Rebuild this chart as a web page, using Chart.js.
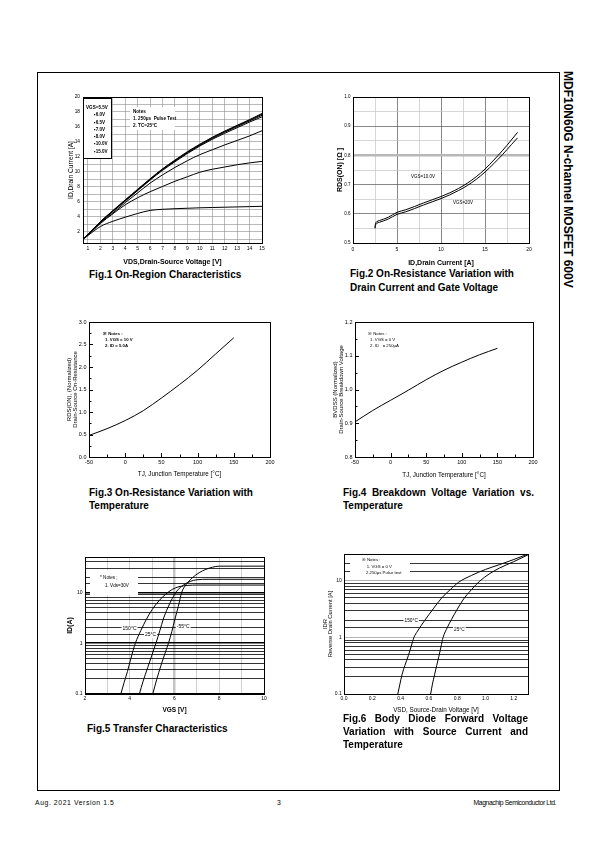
<!DOCTYPE html>
<html>
<head>
<meta charset="utf-8">
<title>MDF10N60G</title>
<script src="https://cdn.jsdelivr.net/npm/chart.js@4.4.0/dist/chart.umd.min.js"></script>
<style>
  body { margin: 0; background: #fff; font-family: 'Liberation Sans', Arial, sans-serif; color: #000; }
  #page { position: relative; width: 595px; height: 842px; overflow: hidden; }
  #frame { position: absolute; left: 37px; top: 72px; width: 523px; height: 719px; border: 1px solid #000; box-sizing: border-box; }
  #side { position: absolute; left: 561px; top: 71px; writing-mode: vertical-rl; font-weight: bold; font-size: 12px; line-height: 14px; white-space: nowrap; }
  canvas { position: absolute; }
  .cap { position: absolute; font-weight: bold; font-size: 10px; line-height: 13px; white-space: nowrap; }
  .just { display: block; text-align: justify; text-align-last: justify; }
  .foot { position: absolute; top: 798px; font-size: 6.8px; line-height: 10px; white-space: nowrap; }
</style>
</head>
<body>
<div id="page">
  <div id="frame"></div>
  <div id="side">MDF10N60G N-channel MOSFET 600V</div>

  <canvas id="fig1"></canvas>
  <canvas id="fig2"></canvas>
  <canvas id="fig3"></canvas>
  <canvas id="fig4"></canvas>
  <canvas id="fig5"></canvas>
  <canvas id="fig6"></canvas>

  <div class="cap" style="left:89px; top:268px;">Fig.1 On-Region Characteristics</div>
  <div class="cap" style="left:350px; top:267px; line-height:14px;">Fig.2 On-Resistance Variation with<br>Drain Current and Gate Voltage</div>
  <div class="cap" style="left:89px; top:486px;">Fig.3 On-Resistance Variation with<br>Temperature</div>
  <div class="cap" style="left:343px; top:486px; width:191px; white-space:normal;"><span class="just">Fig.4 Breakdown Voltage Variation vs.</span>Temperature</div>
  <div class="cap" style="left:87px; top:722px;">Fig.5 Transfer Characteristics</div>
  <div class="cap" style="left:343px; top:712px; width:185px; white-space:normal;"><span class="just">Fig.6 Body Diode Forward Voltage</span><span class="just">Variation with Source Current and</span>Temperature</div>

  <div class="foot" style="left:35px; letter-spacing:0.6px;">Aug. 2021 Version 1.5</div>
  <div class="foot" style="left:277px;">3</div>
  <div class="foot" style="right:39px; letter-spacing:-0.4px;">Magnachip Semiconductor Ltd.</div>
</div>

<script>
const FONT = "'Liberation Sans', Arial, sans-serif";
const NARROW = "'Liberation Sans Narrow', 'Liberation Sans', Arial, sans-serif";

// Fig.1 On-Region Characteristics
const fig1Vds = [0.6, 1, 2, 3, 4, 5, 6, 7, 8, 9, 10, 11, 12, 13, 14, 15];
const fig1Id55 = [1.0, 1.5, 2.7, 3.4, 3.95, 4.45, 4.85, 5.0, 5.08, 5.14, 5.2, 5.24, 5.28, 5.32, 5.36, 5.4];
const fig1Id60 = [1.0, 1.55, 3.1, 4.4, 5.6, 6.55, 7.35, 8.05, 8.75, 9.35, 9.95, 10.35, 10.65, 10.95, 11.2, 11.4];
const fig1Id65 = [1.0, 1.6, 3.2, 4.5, 5.9, 7.2, 8.5, 9.6, 10.6, 11.5, 12.3, 12.95, 13.6, 14.2, 14.8, 15.5];
const fig1Id70 = [1.0, 1.6, 3.25, 4.7, 6.1, 7.5, 8.9, 10.2, 11.35, 12.45, 13.45, 14.35, 15.15, 15.9, 16.65, 17.35];
const fig1Id80 = [1.0, 1.62, 3.3, 4.75, 6.17, 7.58, 8.98, 10.3, 11.45, 12.55, 13.55, 14.47, 15.3, 16.05, 16.8, 17.55];
const fig1Id100 = [1.0, 1.64, 3.33, 4.8, 6.22, 7.63, 9.03, 10.36, 11.52, 12.63, 13.63, 14.55, 15.38, 16.15, 16.9, 17.7];
const fig1Id150 = [1.0, 1.66, 3.36, 4.83, 6.26, 7.68, 9.08, 10.41, 11.58, 12.7, 13.7, 14.62, 15.45, 16.22, 16.98, 17.8];
const fig1Vgs = ['5.5', '6.0', '6.5', '7.0', '8.0', '10.0', '15.0'];

// Fig.2 On-Resistance vs Drain Current
const fig2Id = [2.5, 2.55, 2.7, 3, 3.5, 4, 5, 6, 7, 8, 9, 10, 11, 12, 13, 14, 15, 16, 17, 18, 18.7];
const fig2Rds10 = [0.553, 0.566, 0.573, 0.577, 0.582, 0.588, 0.605, 0.614, 0.625, 0.637, 0.648, 0.659, 0.672, 0.687, 0.705, 0.727, 0.753, 0.784, 0.817, 0.853, 0.879];
const fig2Rds20 = [0.55, 0.56, 0.567, 0.571, 0.576, 0.582, 0.598, 0.607, 0.618, 0.63, 0.641, 0.652, 0.665, 0.68, 0.697, 0.718, 0.743, 0.772, 0.803, 0.837, 0.86];
const fig2LabelText = ['VGS=10.0V', 'VGS=20V'];
const fig2LabelX = [7.95, 12.5];
const fig2LabelY = [0.726, 0.637];

// Fig.3 On-Resistance vs Temperature
const fig3Tj = [-50, -25, 0, 25, 50, 75, 100, 125, 150];
const fig3Rds = [0.48, 0.63, 0.81, 1.03, 1.31, 1.61, 1.93, 2.29, 2.65];

// Fig.4 Breakdown Voltage vs Temperature
const fig4Tj = [-50, -25, 0, 25, 50, 75, 100, 125, 150];
const fig4Bv = [0.904, 0.938, 0.968, 0.998, 1.029, 1.057, 1.081, 1.103, 1.122];

// Fig.5 Transfer Characteristics
const fig5Vgs150 = [3.6, 3.75, 3.9, 4.05, 4.25, 4.5, 4.75, 5.0, 5.3, 5.6, 5.9, 6.2, 6.6, 7, 8, 10];
const fig5Id150 = [0.1, 0.17, 0.28, 0.5, 1.0, 1.8, 3.0, 4.6, 6.8, 9.2, 11.5, 13, 13.8, 14, 14, 14];
const fig5Vgs25 = [4.43, 4.6, 4.8, 5.0, 5.17, 5.35, 5.5, 5.7, 5.9, 6.1, 6.4, 6.7, 7.0, 7.5, 10];
const fig5Id25 = [0.1, 0.18, 0.33, 0.6, 1.0, 1.8, 3.0, 5.0, 7.6, 10.6, 14, 16.5, 17.8, 18.2, 18.2];
const fig5VgsM55 = [5.03, 5.2, 5.4, 5.6, 5.73, 5.88, 6.02, 6.17, 6.32, 6.5, 6.8, 7.1, 7.4, 7.7, 8.0, 10];
const fig5IdM55 = [0.1, 0.19, 0.37, 0.68, 1.0, 1.7, 3.0, 5.3, 10, 14, 19.5, 24.5, 28.5, 31.5, 33, 33];
const fig5LabelText = ['150\u00B0C', '25\u00B0C', '-55\u00B0C'];
const fig5LabelX = [3.99, 4.93, 6.39];
const fig5LabelY = [1.9, 1.49, 2.1];

// Fig.6 Body Diode Forward Voltage
const fig6Vsd150 = [0.38, 0.395, 0.41, 0.43, 0.455, 0.475, 0.494, 0.52, 0.57, 0.63, 0.69, 0.75, 0.81, 0.9, 1.0, 1.1, 1.2, 1.3];
const fig6Idr150 = [0.1, 0.15, 0.22, 0.32, 0.48, 0.7, 1.0, 1.3, 2.0, 3.2, 5.0, 7.0, 9.5, 12.5, 16, 19.5, 24, 30];
const fig6Vsd25 = [0.612, 0.625, 0.64, 0.655, 0.67, 0.685, 0.70, 0.73, 0.76, 0.795, 0.84, 0.9, 0.96, 1.03, 1.1, 1.2, 1.3];
const fig6Idr25 = [0.1, 0.15, 0.22, 0.32, 0.46, 0.68, 1.0, 1.5, 2.1, 3.0, 4.6, 7.0, 10, 13.5, 17, 22, 29];
const fig6LabelText = ['150\u00B0C', '25\u00B0C'];
const fig6LabelX = [0.475, 0.815];
const fig6LabelY = [2.0, 1.39];

Chart.defaults.color = '#000';
Chart.defaults.font.family = FONT;

const pts = (xs, ys) => xs.map((x, i) => ({ x, y: ys[i] }));
const curve = (xs, ys, w) => ({
  data: pts(xs, ys), borderColor: '#000', borderWidth: w || 1,
  pointRadius: 0, cubicInterpolationMode: 'monotone', fill: false
});
const isStep = (v, s) => Math.abs(v / s - Math.round(v / s)) < 1e-6;
const isDecade = v => isStep(Math.log10(v), 1);

// frame, inner ticks, notes and curve labels
const sheetDeco = {
  id: 'sheetDeco',
  beforeDatasetsDraw(chart, args, o) {
    const { ctx, chartArea: a, scales } = chart;
    ctx.save();
    (o.notes || []).forEach(n => {
      if (n.box) {
        ctx.fillStyle = '#fff';
        ctx.fillRect(a.left + n.box[0], a.top + n.box[1], n.box[2], n.box[3]);
        if (n.border) {
          ctx.strokeStyle = '#000'; ctx.lineWidth = 1;
          ctx.strokeRect(a.left + n.box[0] + 0.5, a.top + n.box[1] + 0.5, n.box[2] - 1, n.box[3] - 1);
        }
      }
      ctx.fillStyle = '#000';
      ctx.font = (n.bold ? 'bold ' : '') + n.size + 'px ' + FONT;
      ctx.textAlign = 'left'; ctx.textBaseline = 'middle';
      n.lines.forEach((t, i) => ctx.fillText(t, a.left + n.x[i], a.top + n.y[i]));
    });
    if (o.labels) {
      const l = o.labels;
      ctx.font = l.size + 'px ' + FONT;
      ctx.textAlign = 'center'; ctx.textBaseline = 'middle';
      l.text.forEach((t, i) => {
        const px = scales.x.getPixelForValue(l.x[i]);
        const py = scales.y.getPixelForValue(l.y[i]);
        if (l.bg) {
          const w = ctx.measureText(t).width;
          ctx.fillStyle = '#fff';
          ctx.fillRect(px - w / 2 - 1, py - l.size / 2 - 1, w + 2, l.size + 2);
        }
        ctx.fillStyle = '#000';
        ctx.fillText(t, px, py);
      });
    }
    ctx.restore();
  },
  afterDraw(chart, args, o) {
    const { ctx, chartArea: a, scales } = chart;
    ctx.save();
    ctx.strokeStyle = '#000';
    ctx.lineWidth = 1;
    if (o.innerTicks) {
      ctx.beginPath();
      const tick = (k, v, len) => {
        if (k === 'x') {
          const p = Math.round(scales.x.getPixelForValue(v)) + 0.5;
          ctx.moveTo(p, a.bottom); ctx.lineTo(p, a.bottom - len);
        } else {
          const p = Math.round(scales.y.getPixelForValue(v)) + 0.5;
          ctx.moveTo(a.left, p); ctx.lineTo(a.left + len, p);
        }
      };
      ['x', 'y'].forEach(k => {
        const vals = scales[k].ticks.map(t => t.value);
        vals.forEach((v, i) => {
          tick(k, v, 4);
          if (i < vals.length - 1) tick(k, (v + vals[i + 1]) / 2, 2.5);
        });
      });
      ctx.stroke();
    }
    ctx.lineWidth = o.frameWidth || 1;
    ctx.strokeRect(Math.round(a.left) + 0.5, Math.round(a.top) + 0.5, Math.round(a.right - a.left), Math.round(a.bottom - a.top));
    ctx.restore();
  }
};

function build(id, plot, yw, xh, datasets, scales, deco) {
  const [L, T, R, B] = plot;
  const pt = 6, pr = 9;
  const cv = document.getElementById(id);
  const w = R - L + yw + pr, h = B - T + pt + xh;
  cv.width = w; cv.height = h;
  Object.assign(cv.style, { left: (L - yw) + 'px', top: (T - pt) + 'px', width: w + 'px', height: h + 'px' });
  scales.x.afterFit = s => { s.height = xh; s.paddingLeft = 0; s.paddingRight = 0; };
  scales.y.afterFit = s => { s.width = yw; s.paddingTop = 0; s.paddingBottom = 0; };
  return new Chart(cv, {
    type: 'line',
    data: { datasets },
    options: {
      responsive: false, animation: false, devicePixelRatio: 1,
      layout: { padding: { top: pt, right: pr, left: 0, bottom: 0 } },
      scales,
      plugins: { legend: { display: false }, tooltip: { enabled: false }, sheetDeco: deco }
    },
    plugins: [sheetDeco]
  });
}

const tickFont = { size: 5.5 };

// ---- Fig.1 ----
build('fig1', [83, 97, 262, 243], 16, 23, [
  curve(fig1Vds, fig1Id55), curve(fig1Vds, fig1Id60), curve(fig1Vds, fig1Id65),
  curve(fig1Vds, fig1Id70), curve(fig1Vds, fig1Id80), curve(fig1Vds, fig1Id100), curve(fig1Vds, fig1Id150)
], {
  x: {
    type: 'linear', min: 0.6, max: 15,
    ticks: { stepSize: 1, includeBounds: false, padding: 2.5, font: { size: 5 }, autoSkip: false, maxRotation: 0, callback: v => Number.isInteger(v) ? v : '' },
    grid: { color: '#8c8c8c', lineWidth: 0.6, drawTicks: false }, border: { display: false },
    title: { display: true, text: 'VDS,Drain-Source Voltage [V]', font: { size: 7, weight: 'bold', family: NARROW }, padding: 0 }
  },
  y: {
    type: 'linear', min: 0.5, max: 20,
    ticks: { stepSize: 1, includeBounds: false, padding: 3, font: { size: 4.8 }, autoSkip: false, callback: v => (Number.isInteger(v) && v % 2 === 0) ? v : '' },
    grid: { color: '#8c8c8c', lineWidth: 0.6, drawTicks: false }, border: { display: false },
    title: { display: true, text: 'ID,Drain Current [A]', font: { size: 6.6 }, padding: { top: 0.5 } }
  }
}, {
  notes: [
    {
      box: [0, 1, 29, 61], border: true, bold: true, size: 4.6,
      lines: fig1Vgs.map((v, i) => (i === 0 ? 'VGS=' : '\u25AA') + v + 'V'),
      x: fig1Vgs.map((v, i) => i === 0 ? 3 : 11),
      y: fig1Vgs.map((v, i) => 10.7 + i * 7.3)
    },
    {
      box: [47, 10, 45, 23], bold: true, size: 4.6,
      lines: ['Notes', '1. 250\u03BCs  Pulse Test', '2. TC=25\u00B0C'],
      x: [50, 50, 50], y: [14.7, 22, 29]
    }
  ]
});

// ---- Fig.2 ----
build('fig2', [353, 97, 529, 243], 17, 24, [
  curve(fig2Id, fig2Rds10), curve(fig2Id, fig2Rds20)
], {
  x: {
    type: 'linear', min: 0, max: 20,
    ticks: { stepSize: 2.5, padding: 3.5, font: { size: 5 }, autoSkip: false, maxRotation: 0, callback: v => isStep(v, 5) ? v : '' },
    grid: { color: c => isStep(c.tick.value, 5) ? '#555' : '#c4c4c4', lineWidth: 0.7, drawTicks: false }, border: { display: false },
    title: { display: true, text: 'ID,Drain Current [A]', font: { size: 7, weight: 'bold', family: NARROW }, padding: 0 }
  },
  y: {
    type: 'linear', min: 0.5, max: 1.0,
    ticks: { stepSize: 0.05, padding: 2.5, font: { size: 4.5 }, autoSkip: false, callback: v => isStep(v, 0.1) ? v.toFixed(1) : '' },
    grid: {
      color: c => Math.abs(c.tick.value - 0.8) < 1e-6 ? '#b8b8b8' : (isStep(c.tick.value, 0.1) ? '#555' : '#c4c4c4'),
      lineWidth: c => Math.abs(c.tick.value - 0.8) < 1e-6 ? 2.5 : 0.7, drawTicks: false
    },
    border: { display: false },
    title: { display: true, text: 'RDS(ON) [\u03A9 ]', font: { size: 7, weight: 'bold', family: NARROW }, padding: 0 }
  }
}, {
  labels: { text: fig2LabelText, x: fig2LabelX, y: fig2LabelY, size: 4.5, bg: false }
});

// ---- Fig.3 ----
build('fig3', [89, 322, 270, 457], 23, 21, [
  curve(fig3Tj, fig3Rds)
], {
  x: {
    type: 'linear', min: -50, max: 200,
    ticks: { stepSize: 50, padding: 2, font: tickFont, maxRotation: 0 },
    grid: { drawOnChartArea: false, drawTicks: false }, border: { display: false },
    title: { display: true, text: 'TJ, Junction Temperature [\u00B0C]', font: { size: 6.3 }, padding: 0 }
  },
  y: {
    type: 'linear', min: 0, max: 3,
    ticks: { stepSize: 0.5, padding: 2.5, font: tickFont, callback: v => v.toFixed(1) },
    grid: { drawOnChartArea: false, drawTicks: false }, border: { display: false },
    title: { display: true, text: ['RDS(ON), (Normalized)', 'Drain-Source On-Resistance'], font: { size: 6, lineHeight: 1 }, padding: 0 }
  }
}, {
  innerTicks: true,
  notes: [{
    bold: true, size: 4.3,
    lines: ['\u203B Notes :', '1. VGS = 10 V', '2. ID = 5.0A'],
    x: [14, 16, 16], y: [12, 18, 24]
  }]
});

// ---- Fig.4 ----
build('fig4', [355, 322, 533, 457], 23, 22, [
  curve(fig4Tj, fig4Bv)
], {
  x: {
    type: 'linear', min: -50, max: 200,
    ticks: { stepSize: 50, padding: 2.5, font: tickFont, maxRotation: 0 },
    grid: { drawOnChartArea: false, drawTicks: false }, border: { display: false },
    title: { display: true, text: 'TJ, Junction Temperature [\u00B0C]', font: { size: 6.3 }, padding: 0 }
  },
  y: {
    type: 'linear', min: 0.8, max: 1.2,
    ticks: { stepSize: 0.1, padding: 2.5, font: tickFont, callback: v => v.toFixed(1) },
    grid: { drawOnChartArea: false, drawTicks: false }, border: { display: false },
    title: { display: true, text: ['BVDSS (Normalized)', 'Drain-Source Breakdown Voltage'], font: { size: 6, lineHeight: 1 }, padding: 0 }
  }
}, {
  innerTicks: true,
  notes: [{
    size: 4.3,
    lines: ['\u203B Notes :', '1. VGS = 0 V', '2. ID   = 250\u03BCA'],
    x: [13, 15, 15], y: [12, 18, 24]
  }]
});

// ---- Fig.5 ----
build('fig5', [85, 557, 264, 694], 19, 20, [
  curve(fig5Vgs150, fig5Id150), curve(fig5Vgs25, fig5Id25), curve(fig5VgsM55, fig5IdM55)
], {
  x: {
    type: 'linear', min: 2, max: 10,
    ticks: { stepSize: 1, padding: 2, font: { size: 5 }, autoSkip: false, maxRotation: 0, callback: v => v % 2 === 0 ? v : '' },
    grid: {
      color: c => c.tick.value === 6 ? '#c4c4c4' : '#b0b0b0',
      lineWidth: c => c.tick.value === 6 ? 2.5 : 0.6, drawTicks: false
    },
    border: { display: false },
    title: { display: true, text: 'VGS [V]', font: { size: 6.5, weight: 'bold' }, padding: 0 }
  },
  y: {
    type: 'logarithmic', min: 0.1, max: 50,
    ticks: { padding: 2.5, font: { size: 5 }, autoSkip: false, callback: v => isDecade(v) ? String(v) : '' },
    grid: { color: '#000', lineWidth: c => isDecade(c.tick.value) ? 1.5 : 0.8, drawTicks: false },
    border: { display: false },
    title: { display: true, text: 'ID(A)', font: { size: 7, weight: 'bold' }, padding: 0 }
  }
}, {
  labels: { text: fig5LabelText, x: fig5LabelX, y: fig5LabelY, size: 5, bg: true },
  notes: [{
    box: [5, 13, 48, 25], size: 4.6,
    lines: ['* Notes ;', '1. Vds=30V'],
    x: [15, 20], y: [20.7, 28.7]
  }]
});

// ---- Fig.6 ----
build('fig6', [344, 554, 528, 694], 22, 20, [
  curve(fig6Vsd150, fig6Idr150), curve(fig6Vsd25, fig6Idr25)
], {
  x: {
    type: 'linear', min: 0, max: 1.3,
    ticks: { stepSize: 0.2, includeBounds: false, padding: 2, font: { size: 5 }, autoSkip: false, maxRotation: 0, callback: v => isStep(v, 0.2) ? v.toFixed(1) : '' },
    grid: { drawOnChartArea: false, drawTicks: false }, border: { display: false },
    title: { display: true, text: 'VSD, Source-Drain Voltage [V]', font: { size: 6.3 }, padding: 0 }
  },
  y: {
    type: 'logarithmic', min: 0.1, max: 30,
    ticks: { padding: 2.3, font: { size: 5 }, autoSkip: false, callback: v => isDecade(v) ? String(v) : '' },
    grid: { color: c => isDecade(c.tick.value) ? '#a0a0a0' : '#000', lineWidth: 0.8, drawTicks: false },
    border: { display: false },
    title: { display: true, text: ['IDR', 'Reverse Drain Current [A]'], font: { size: 5.8, lineHeight: 1 }, padding: 0 }
  }
}, {
  labels: { text: fig6LabelText, x: fig6LabelX, y: fig6LabelY, size: 4.8, bg: true },
  notes: [{
    box: [6, 2, 60, 21], size: 4.3,
    lines: ['\u203B Notes :', '1. VGS = 0 V', '2.250\u03BCs Pulse test'],
    x: [17.7, 22.7, 22], y: [6, 12.7, 19.3]
  }]
});
</script>
</body>
</html>
